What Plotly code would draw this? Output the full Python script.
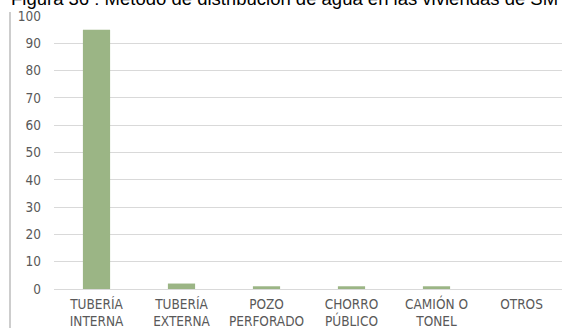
import plotly.graph_objects as go

# Water distribution method data
categorias = ["TUBERÍA<br>INTERNA", "TUBERÍA<br>EXTERNA", "POZO<br>PERFORADO",
              "CHORRO<br>PÚBLICO", "CAMIÓN O<br>TONEL", "OTROS"]
valores = [95, 2, 1, 1, 1, 0]
y_ticks = [0, 10, 20, 30, 40, 50, 60, 70, 80, 90, 100]
titulo = "Figura 36 : Método de distribución de agua en las viviendas de SM"

W, H = 562, 328
L, R, T, B = 54, 0, 16, 39
plot_w = W - L - R
plot_h = H - T - B

label_font = dict(family="Liberation Sans Narrow, DejaVu Sans Condensed, sans-serif",
                  size=13.5, color="#595959")

fig = go.Figure(go.Bar(
    x=list(range(len(categorias))),
    y=valores,
    width=0.32,
    marker=dict(color="#9bb585", line=dict(width=0)),
    hoverinfo="skip",
))

fig.update_layout(
    width=W, height=H,
    margin=dict(l=L, r=R, t=T, b=B, pad=0),
    paper_bgcolor="white", plot_bgcolor="white",
    showlegend=False,
    xaxis=dict(
        range=[-0.5, -0.5 + plot_w / 85.0],
        tickmode="array",
        tickvals=list(range(len(categorias))),
        ticktext=categorias,
        showgrid=False, zeroline=False, showline=False,
        ticks="", tickfont=label_font,
        ticklabelstandoff=5,
    ),
    yaxis=dict(
        range=[0, 100],
        tickmode="array", tickvals=y_ticks,
        showgrid=True, gridcolor="#d9d9d9", gridwidth=1,
        zeroline=True, zerolinecolor="#d9d9d9", zerolinewidth=1,
        showline=False, ticks="", tickfont=label_font,
        ticklabelstandoff=12,
    ),
    annotations=[dict(
        text=titulo, xref="paper", yref="paper",
        x=(9 - L) / plot_w, y=1 + (T + 1.5) / plot_h,
        xanchor="left", yanchor="middle", showarrow=False,
        font=dict(family="Liberation Sans, Arial, sans-serif", size=18.5, color="#000000"),
    )],
    # chart-area border on the left
    shapes=[dict(
        type="line", xref="paper", yref="paper",
        x0=(10 - L) / plot_w, x1=(10 - L) / plot_w,
        y0=-(B + 5) / plot_h, y1=1 + (T - 12) / plot_h,
        line=dict(color="#bdbdbd", width=1.5),
        layer="above",
    )],
)

fig.write_html("out.html")
